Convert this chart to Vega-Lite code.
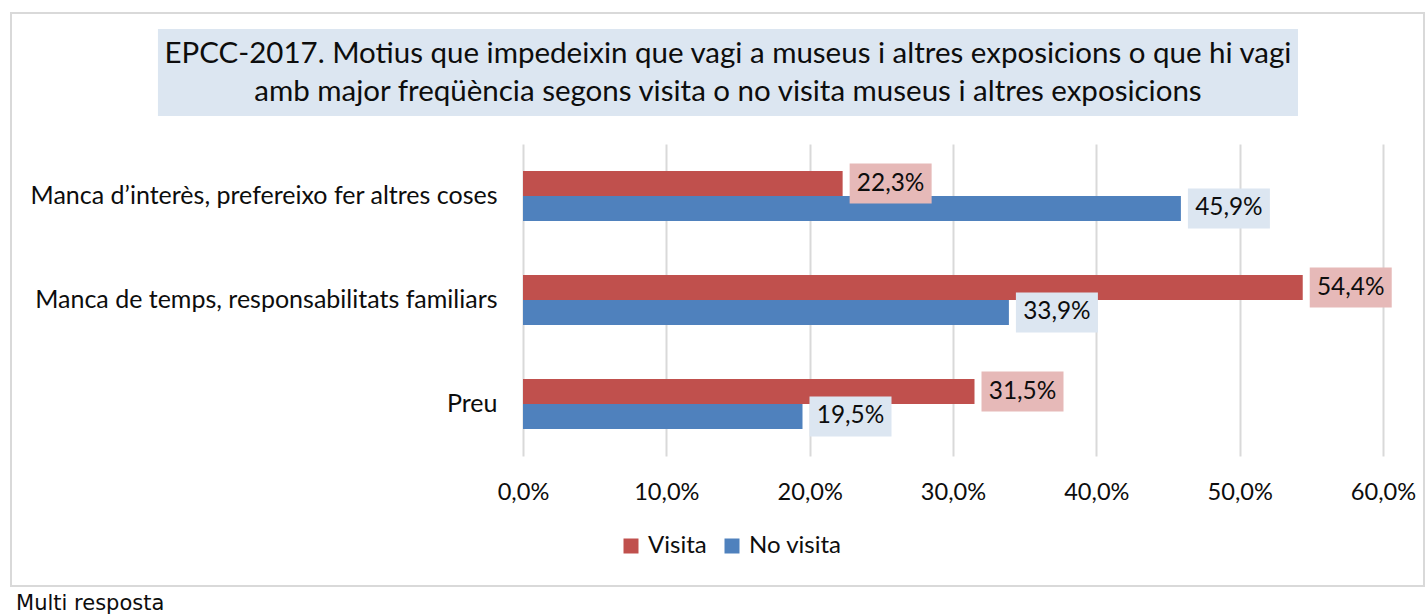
{
  "$schema": "https://vega.github.io/schema/vega-lite/v6.json",
  "width": 860,
  "height": 312,
  "padding": {"left": 10, "top": 11, "right": 0, "bottom": 0},
  "background": "#ffffff",
  "config": {
    "locale": {"number": {"decimal": ",", "thousands": ".", "grouping": [3], "currency": ["", " €"]}},
    "view": {"stroke": null},
    "font": "Lato"
  },
  "resolve": {"scale": {"y": "independent"}},
  "layer": [
    {
      "data": {"values": [{}]},
      "mark": {"type": "rect", "fill": null, "stroke": "#d9d9d9", "strokeWidth": 2},
      "encoding": {
        "x": {"datum": -0.3572, "type": "quantitative"},
        "x2": {"datum": 0.6286},
        "y": {"datum": 1.4199, "type": "quantitative", "scale": {"domain": [0, 1]}, "axis": null},
        "y2": {"datum": -0.4167}
      }
    },
    {
      "data": {"values": [{}]},
      "mark": {"type": "rect", "fill": "#DCE6F1"},
      "encoding": {
        "x": {"datum": -0.2547, "type": "quantitative"},
        "x2": {"datum": 0.5407},
        "y": {"datum": 1.3686, "type": "quantitative", "scale": {"domain": [0, 1]}, "axis": null},
        "y2": {"datum": 1.0897}
      }
    },
    {
      "data": {"values": [{"t": "EPCC-2017. Motius que impedeixin que vagi a museus i altres exposicions o que hi vagi\namb major freqüència segons visita o no visita museus i altres exposicions"}]},
      "mark": {"type": "text", "fontSize": 29.5, "lineHeight": 38, "lineBreak": "\n", "align": "center", "baseline": "middle", "color": "#0d0d0d"},
      "encoding": {
        "x": {"datum": 0.143, "type": "quantitative"},
        "y": {"datum": 1.2885, "type": "quantitative", "scale": {"domain": [0, 1]}, "axis": null},
        "text": {"field": "t"}
      }
    },
    {
      "data": {"values": [{"t": "Multi resposta"}]},
      "mark": {"type": "text", "font": "DejaVu Sans", "fontSize": 21, "align": "left", "baseline": "middle", "color": "#0d0d0d"},
      "encoding": {
        "x": {"datum": -0.3537, "type": "quantitative"},
        "y": {"datum": -0.4744, "type": "quantitative", "scale": {"domain": [0, 1]}, "axis": null},
        "text": {"field": "t"}
      }
    },
    {
      "data": {"values": [
        {"cat": "Manca d’interès, prefereixo fer altres coses", "serie": "Visita", "v": 0.223},
        {"cat": "Manca d’interès, prefereixo fer altres coses", "serie": "No visita", "v": 0.459},
        {"cat": "Manca de temps, responsabilitats familiars", "serie": "Visita", "v": 0.544},
        {"cat": "Manca de temps, responsabilitats familiars", "serie": "No visita", "v": 0.339},
        {"cat": "Preu", "serie": "Visita", "v": 0.315},
        {"cat": "Preu", "serie": "No visita", "v": 0.195}
      ]},
      "encoding": {
        "y": {
          "field": "cat", "type": "nominal", "sort": null,
          "scale": {"paddingInner": 0.52, "paddingOuter": 0.26},
          "axis": {"title": null, "domain": false, "ticks": false, "labelPadding": 26, "labelFontSize": 25, "labelColor": "#0d0d0d", "labelLimit": 0}
        },
        "yOffset": {"field": "serie", "type": "nominal", "sort": ["Visita", "No visita"]}
      },
      "layer": [
        {
          "mark": {"type": "bar"},
          "encoding": {
            "x": {
              "field": "v", "type": "quantitative",
              "scale": {"domain": [0, 0.6]},
              "axis": {"title": null, "format": ".1%", "values": [0, 0.1, 0.2, 0.3, 0.4, 0.5, 0.6], "domain": false, "ticks": false, "grid": true, "gridColor": "#d9d9d9", "gridWidth": 2, "labelPadding": 24, "labelFontSize": 23.6, "labelColor": "#0d0d0d", "labelFlush": false, "labelOverlap": false}
            },
            "color": {
              "field": "serie", "type": "nominal",
              "scale": {"domain": ["Visita", "No visita"], "range": ["#C0504D", "#4F81BD"]},
              "legend": {"title": null, "orient": "none", "legendX": 96, "legendY": 390, "direction": "horizontal", "symbolType": "square", "symbolSize": 225, "symbolStrokeWidth": 0, "labelFontSize": 24, "labelColor": "#0d0d0d", "columnPadding": 13, "labelOffset": 5, "padding": 0}
            }
          }
        },
        {
          "mark": {"type": "bar", "height": 40, "xOffset": 7, "x2Offset": 89},
          "encoding": {
            "x": {"field": "v", "type": "quantitative"},
            "x2": {"field": "v"},
            "fill": {
              "field": "serie", "type": "nominal",
              "scale": {"domain": ["Visita", "No visita"], "range": ["#E6B9B8", "#DCE6F1"]},
              "legend": null
            }
          }
        },
        {
          "mark": {"type": "text", "dx": 48, "align": "center", "baseline": "middle", "fontSize": 24.4, "color": "#0d0d0d"},
          "encoding": {
            "x": {"field": "v", "type": "quantitative"},
            "text": {"field": "v", "type": "quantitative", "format": ".1%"}
          }
        }
      ]
    }
  ]
}
